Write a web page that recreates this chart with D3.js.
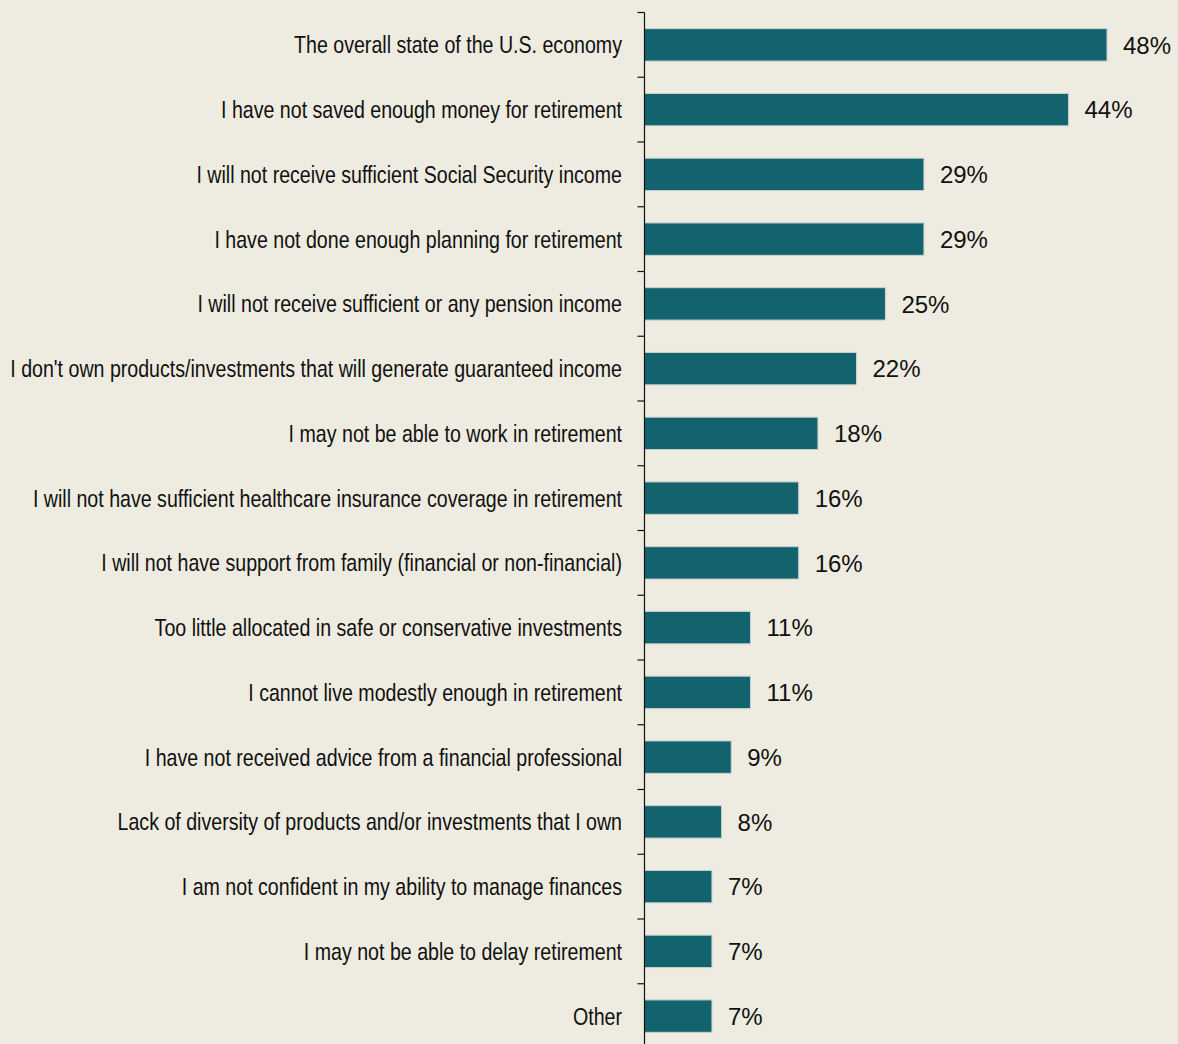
<!DOCTYPE html>
<html>
<head>
<meta charset="utf-8">
<script src="https://cdn.jsdelivr.net/npm/d3@7"></script>
<style>
  html, body { margin: 0; padding: 0; background: #eeebe0; }
  svg { display: block; }
  .cat { font-family: "Liberation Sans", Arial, sans-serif; font-size: 24px; fill: #111; }
  .val { font-family: "Liberation Sans", Arial, sans-serif; font-size: 24px; fill: #111; }
</style>
</head>
<body>
<svg id="chart" width="1178" height="1044"></svg>
<script>
// Concerns about retirement, share of respondents
const categories = [
  "The overall state of the U.S. economy",
  "I have not saved enough money for retirement",
  "I will not receive sufficient Social Security income",
  "I have not done enough planning for retirement",
  "I will not receive sufficient or any pension income",
  "I don't own products/investments that will generate guaranteed income",
  "I may not be able to work in retirement",
  "I will not have sufficient healthcare insurance coverage in retirement",
  "I will not have support from family (financial or non-financial)",
  "Too little allocated in safe or conservative investments",
  "I cannot live modestly enough in retirement",
  "I have not received advice from a financial professional",
  "Lack of diversity of products and/or investments that I own",
  "I am not confident in my ability to manage finances",
  "I may not be able to delay retirement",
  "Other"
];
const values = [48, 44, 29, 29, 25, 22, 18, 16, 16, 11, 11, 9, 8, 7, 7, 7];

const svg = d3.select("#chart");
const axisX = 644.5;
const labelRight = 622;

const x = d3.scaleLinear().domain([0, 48]).range([axisX, 1107]);
const y = d3.scaleBand().domain(categories).range([12.5, 1048.5]).paddingInner(0.5).paddingOuter(0.25);

// bars
svg.append("g").selectAll("rect")
  .data(values)
  .join("rect")
  .attr("x", x(0))
  .attr("y", (d, i) => y(categories[i]))
  .attr("width", d => x(d) - x(0))
  .attr("height", y.bandwidth())
  .attr("fill", "#12636e")
  .attr("stroke", "#c9d0cf")
  .attr("stroke-width", 1);

// category axis with ticks at band boundaries
const step = y.step();
const boundaries = d3.range(categories.length + 1).map(i => 12.5 + i * step);
const axisG = svg.append("g");
axisG.append("line")
  .attr("x1", axisX).attr("x2", axisX)
  .attr("y1", 12.5).attr("y2", 1048.5)
  .attr("stroke", "#111").attr("stroke-width", 1.2);
axisG.selectAll("line.tick")
  .data(boundaries)
  .join("line")
  .attr("class", "tick")
  .attr("x1", axisX - 7).attr("x2", axisX)
  .attr("y1", d => d).attr("y2", d => d)
  .attr("stroke", "#111").attr("stroke-width", 1.2);

// category labels, set in a condensed width
const catText = svg.append("g").selectAll("text")
  .data(categories)
  .join("text")
  .attr("class", "cat")
  .attr("x", 0)
  .attr("y", 0)
  .attr("dy", "0.35em")
  .attr("text-anchor", "end")
  .text(d => d);
const refWidth = catText.nodes()[5].getComputedTextLength();
const condense = 612 / refWidth;
catText.attr("transform", d => `translate(${labelRight},${y(d) + y.bandwidth() / 2}) scale(${condense},1)`);

// value labels
svg.append("g").selectAll("text")
  .data(values)
  .join("text")
  .attr("class", "val")
  .attr("x", d => x(d) + 16)
  .attr("y", (d, i) => y(categories[i]) + y.bandwidth() / 2)
  .attr("dy", "0.36em")
  .text(d => d + "%");
</script>
</body>
</html>
